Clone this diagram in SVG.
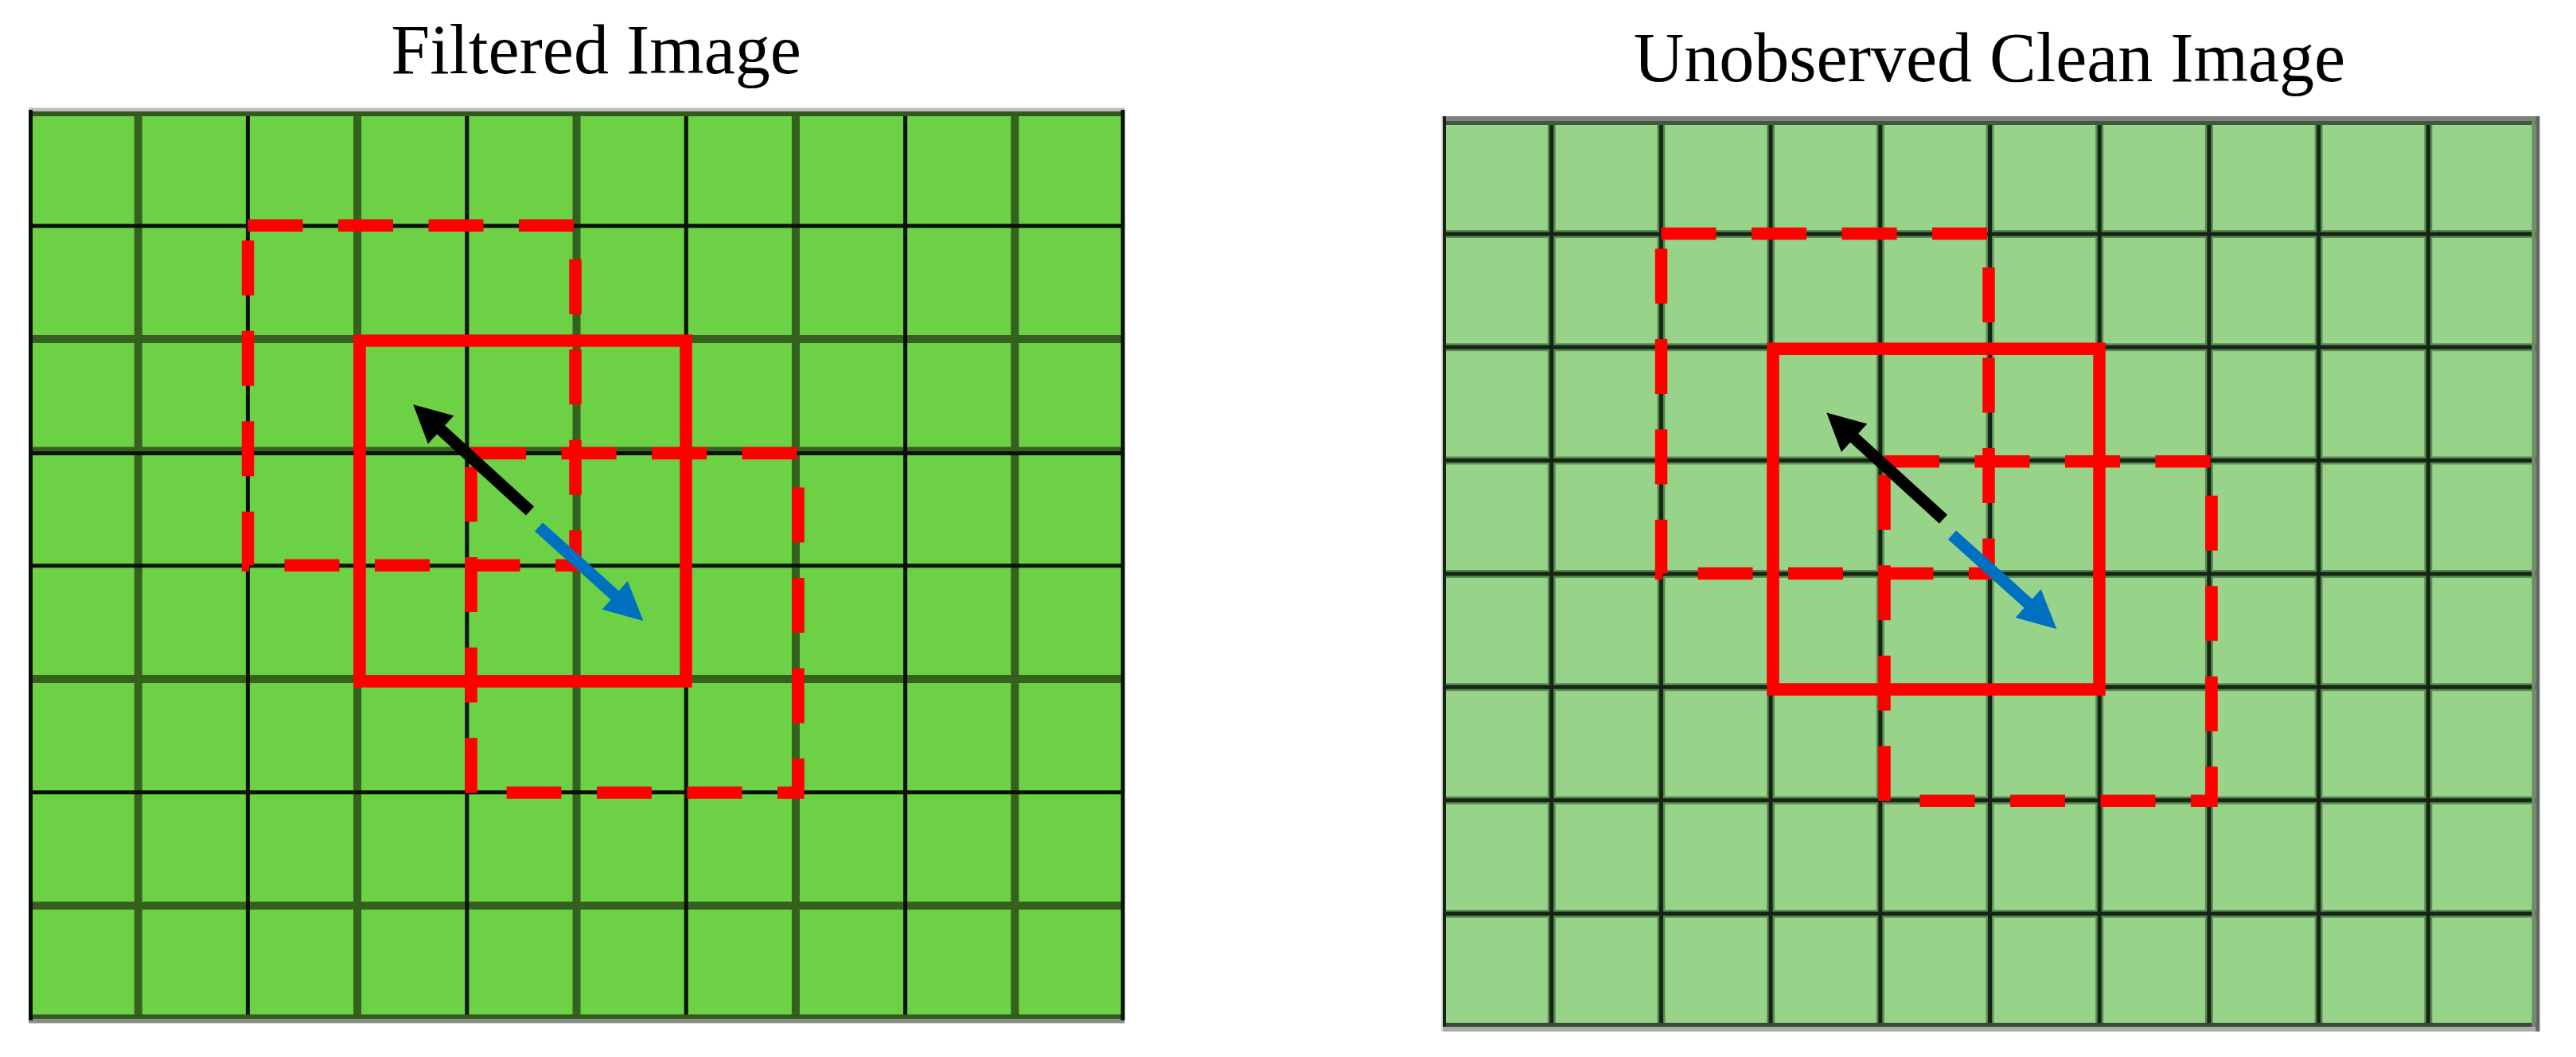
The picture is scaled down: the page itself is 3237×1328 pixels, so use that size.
<svg xmlns="http://www.w3.org/2000/svg" width="3237" height="1328" viewBox="0 0 3237 1328">
<style>
.title{font-family:"Liberation Serif","Times New Roman",serif;font-size:88px;fill:#000}
.gk{stroke:#081008;stroke-width:5;fill:none}
.gg{stroke:#35611f;stroke-width:10;fill:none}
.rb{stroke:#5c8a54;stroke-width:10;fill:none}
.rk{stroke:#142514;stroke-width:5;fill:none}
.solid{fill:none;stroke:#ff0000;stroke-width:15.5}
.dash{fill:none;stroke:#ff0000;stroke-width:15.5;stroke-dasharray:69 44.5}
.ak{stroke:#000000;stroke-width:15;fill:none}
.ab{stroke:#0070c0;stroke-width:15;fill:none}
</style>
<defs>
<marker id="headK" markerUnits="userSpaceOnUse" viewBox="-2 -27 54 54" markerWidth="54" markerHeight="54" refX="0" refY="0" orient="auto"><path d="M-1,-24 L46,0 L-1,24 z" fill="#000000"/></marker>
<marker id="headB" markerUnits="userSpaceOnUse" viewBox="-2 -27 54 54" markerWidth="54" markerHeight="54" refX="0" refY="0" orient="auto"><path d="M-1,-24 L47,0 L-1,24 z" fill="#0070c0"/></marker>
<path id="gridLines" d="M173.7,141.5V1280M311.4,141.5V1280M449.1,141.5V1280M586.8,141.5V1280M724.5,141.5V1280M862.2,141.5V1280M999.9,141.5V1280M1137.6,141.5V1280M1275.3,141.5V1280M36,283.8H1413M36,426.1H1413M36,568.4H1413M36,710.7H1413M36,853.1H1413M36,995.4H1413M36,1137.7H1413"/>
</defs>

<text class="title" x="749" y="92" text-anchor="middle">Filtered Image</text>
<text class="title" x="2500" y="102" text-anchor="middle">Unobserved Clean Image</text>

<g id="filtered-image">
  <rect x="36" y="141.5" width="1377" height="1138.5" fill="#6dd145"/>
  <path class="gg" d="M173.7,141.5V1280M449.1,141.5V1280M724.5,141.5V1280M999.9,141.5V1280M1275.3,141.5V1280M36,426.1H1413M36,566.4H1413M36,853.1H1413M36,1137.7H1413"/>
  <path class="gk" d="M311.4,141.5V1280M586.8,141.5V1280M862.2,141.5V1280M1137.6,141.5V1280M36,283.8H1413M36,569.4H1413M36,710.7H1413M36,995.4H1413"/>
  <path d="M36,138H1413" stroke="#bdbdbd" stroke-width="5" fill="none"/>
  <path d="M36,143H1413M36,1277.5H1413" stroke="#2f5a1c" stroke-width="6" fill="none"/>
  <path d="M36,1283H1413" stroke="#8a8a8a" stroke-width="5" fill="none"/>
  <path class="gk" d="M38.5,138V1282M1411,138V1282"/>
</g>

<g id="clean-image">
  <rect x="1812" y="151.7" width="1376" height="1136.3" fill="#98d38a"/>
  <g transform="translate(1776,10.2)">
    <use href="#gridLines" class="rb"/>
    <use href="#gridLines" class="rk"/>
  </g>
  <path d="M1812,149H3188" stroke="#808080" stroke-width="6" fill="none"/>
  <path d="M1812,154.5H3188" stroke="#3f5a3c" stroke-width="5" fill="none"/>
  <path d="M1812,1287.5H3191" stroke="#364a34" stroke-width="5" fill="none"/>
  <path d="M1812,1293H3191" stroke="#aaaaaa" stroke-width="6" fill="none"/>
  <path d="M1814.5,146V1290" stroke="#142514" stroke-width="5" fill="none"/>
  <path d="M1812,146V1296" stroke="#dddddd" stroke-width="2" fill="none"/>
  <path d="M3184,146V1290" stroke="#6e8f68" stroke-width="5" fill="none"/>
  <path d="M3189,146V1296" stroke="#666666" stroke-width="5" fill="none"/>
</g>

<g id="left-patches">
  <rect id="left-patch-ul" class="dash" x="311.5" y="283.3" width="411.5" height="427"/>
  <rect id="left-patch-lr" class="dash" x="592" y="569.5" width="411" height="426.5"/>
  <rect id="left-patch-center" class="solid" x="452" y="428" width="410" height="428"/>
</g>

<g id="right-patches" transform="translate(1776,10.2)">
  <rect id="right-patch-ul" class="dash" x="311.5" y="283.3" width="411.5" height="427"/>
  <rect id="right-patch-lr" class="dash" x="592" y="569.5" width="411" height="426.5"/>
  <rect id="right-patch-center" class="solid" x="452" y="428" width="410" height="428"/>
</g>

<g id="connectors">
  <line class="ak" x1="666" y1="642" x2="553.3" y2="539.3" marker-end="url(#headK)"/>
  <line class="ab" x1="677" y1="662" x2="773.4" y2="748.6" marker-end="url(#headB)"/>
  <g transform="translate(1776,10.2)">
    <line class="ak" x1="666" y1="642" x2="553.3" y2="539.3" marker-end="url(#headK)"/>
    <line class="ab" x1="677" y1="662" x2="773.4" y2="748.6" marker-end="url(#headB)"/>
  </g>
</g>
</svg>
